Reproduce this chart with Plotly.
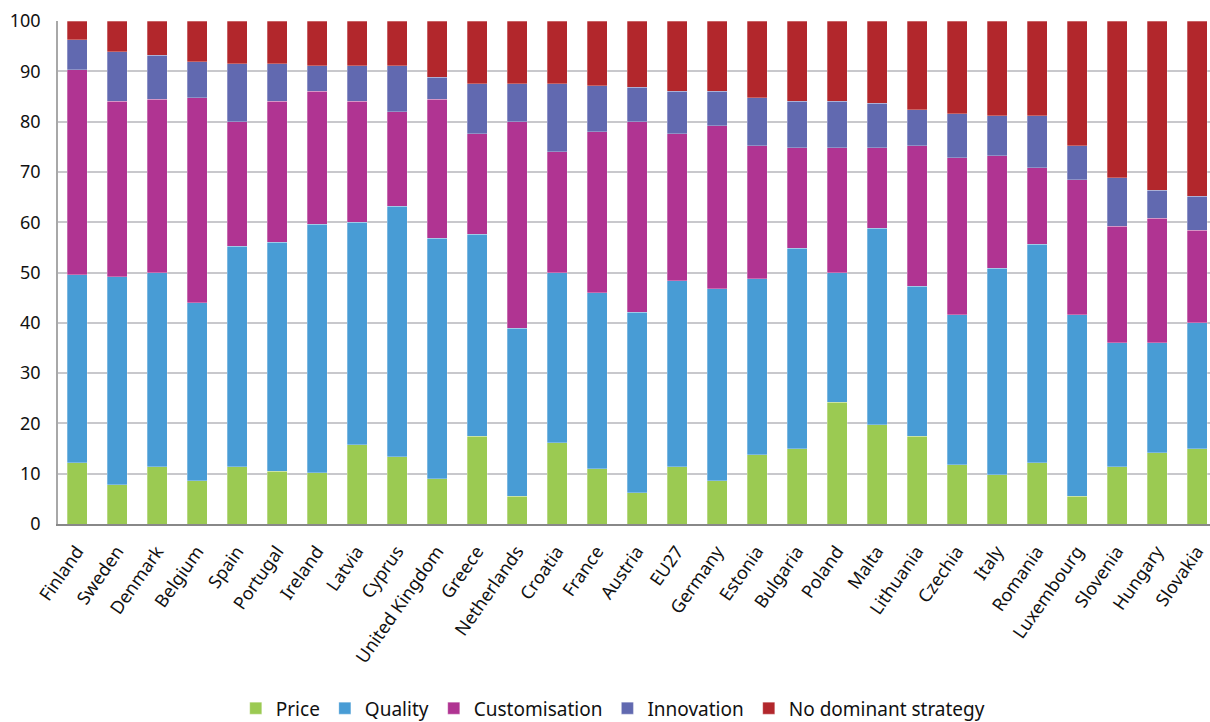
import plotly.graph_objects as go

countries = ["Finland", "Sweden", "Denmark", "Belgium", "Spain", "Portugal", "Ireland", "Latvia",
             "Cyprus", "United Kingdom", "Greece", "Netherlands", "Croatia", "France", "Austria",
             "EU27", "Germany", "Estonia", "Bulgaria", "Poland", "Malta", "Lithuania", "Czechia",
             "Italy", "Romania", "Luxembourg", "Slovenia", "Hungary", "Slovakia"]

# cumulative tops
price_top = [12.2, 7.8, 11.4, 8.6, 11.4, 10.5, 10.2, 15.8, 13.4, 9.0, 17.4, 5.5, 16.2, 11.0, 6.2,
             11.4, 8.6, 13.8, 15.0, 24.2, 19.7, 17.4, 11.8, 9.8, 12.2, 5.5, 11.4, 14.2, 15.0]
quality_top = [49.6, 49.2, 50.0, 44.0, 55.2, 56.0, 59.6, 60.0, 63.2, 56.8, 57.6, 38.9, 50.0, 46.0, 42.1,
               48.4, 46.8, 48.8, 54.8, 50.0, 58.8, 47.3, 41.6, 50.8, 55.6, 41.6, 36.0, 36.0, 40.0]
custom_top = [90.3, 84.0, 84.4, 84.7, 80.0, 84.0, 86.0, 84.0, 82.0, 84.4, 77.6, 80.0, 74.0, 78.0, 80.0,
              77.6, 79.2, 75.2, 74.8, 74.8, 74.8, 75.2, 72.8, 73.2, 70.8, 68.4, 59.2, 60.8, 58.4]
innov_top = [96.3, 93.9, 93.2, 91.9, 91.5, 91.5, 91.1, 91.1, 91.1, 88.8, 87.5, 87.5, 87.5, 87.1, 86.8,
             86.0, 86.0, 84.7, 84.0, 84.0, 83.6, 82.4, 81.6, 81.2, 81.2, 75.2, 68.8, 66.4, 65.2]

price = price_top
quality = [round(q - p, 1) for q, p in zip(quality_top, price_top)]
customisation = [round(c - q, 1) for c, q in zip(custom_top, quality_top)]
innovation = [round(i - c, 1) for i, c in zip(innov_top, custom_top)]
no_dominant = [round(100 - i, 1) for i in innov_top]

series = [
    ("Price", price, "#9BCA52"),
    ("Quality", quality, "#489CD5"),
    ("Customisation", customisation, "#B03492"),
    ("Innovation", innovation, "#6169B0"),
    ("No dominant strategy", no_dominant, "#B2272C"),
]

fig = go.Figure()
for name, vals, col in series:
    fig.add_trace(go.Bar(x=countries, y=vals, name=name, marker_color=col,
                         marker_line_color="rgba(255,255,255,0.35)", marker_line_width=0.8))

fig.update_layout(
    barmode="stack",
    bargap=0.5,
    width=1210, height=722,
    margin=dict(l=58, r=0, t=21, b=198),
    plot_bgcolor="white",
    paper_bgcolor="white",
    font=dict(family="Noto Sans", size=18, color="#111111"),
    legend=dict(orientation="h", x=0.482, xanchor="center", yref="container", y=0.019,
                yanchor="middle", font=dict(size=19), itemwidth=30, traceorder="normal"),
)
fig.update_xaxes(range=[-0.475, 28.325], tickangle=-55, showline=True, linecolor="#888888",
                 linewidth=1.5, ticks="", tickfont=dict(size=18), automargin=False,
                 ticklabelstandoff=8)
fig.update_yaxes(range=[0, 100], dtick=10, showgrid=True, gridcolor="#C8C8CC", gridwidth=1.5,
                 showline=True, linecolor="#A8A8A8", linewidth=1.5, ticks="",
                 tickfont=dict(size=18), zeroline=False, automargin=False,
                 ticklabelstandoff=12)

# drop the page's default 8px body margin so the figure fills the window
fig.write_html("out.html", config={"displayModeBar": False},
               post_script="document.body.style.margin='0px';")
